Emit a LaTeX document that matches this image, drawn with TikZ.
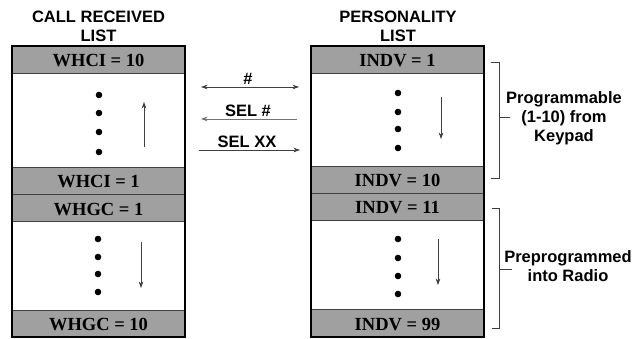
\documentclass[tikz,border=0pt]{standalone}
\usepackage{fontspec}
\setmainfont{Liberation Serif}
\setsansfont{Liberation Sans}
\usetikzlibrary{positioning,calc,arrows.meta}
\definecolor{bandgray}{RGB}{160,160,160}
\newcommand\bandfont{\fontsize{18.5}{20}\selectfont\bfseries}
\newcommand\labelfont{\sffamily\bfseries\fontsize{16.5}{19}\selectfont}
\tikzset{
    % Stile per le fasce grigie
    band/.style={draw=black!75, line width=0.6pt, fill=bandgray,
                 minimum width=173pt, minimum height=27pt,
                 text height=14pt, text depth=0pt,
                 inner sep=0pt, font=\bandfont},
    % Stile per le zone bianche
    gap/.style={fill=white, draw=none},
    listframe/.style={draw=black, line width=2.4pt},
    dot/.style={circle, fill=black, inner sep=0pt, minimum size=6.6pt},
    title/.style={anchor=base, font=\labelfont},
    sidetext/.style={align=center, font=\labelfont},
    tip/.tip={Stealth[length=6.5pt,width=4.6pt]},
    msg/.style={draw=black!75, line width=0.8pt, -tip},
    brace/.style={draw=black!75, line width=0.7pt}
}
\begin{document}
\begin{tikzpicture}[x=1pt,y=-1pt]
    \useasboundingbox (0,0) rectangle (634,339);
    % titoli
    \node[title] (crltop) at (98.5,23) {CALL RECEIVED};
    \node[title] (crlbot) at (98.5,42) {LIST};
    \node[title] (pertop) at (398,23) {PERSONALITY};
    \node[title] (perbot) at (398,42) {LIST};
    % lista chiamate ricevute
    \fill[gap] (12,73) rectangle (185,167);
    \fill[gap] (12,222) rectangle (185,310);
    \node[band] (whci10) at (98.5,60) {WHCI = 10};
    \node[band] (whci1) at (98.5,180.5) {WHCI = 1};
    \node[band] (whgc1) at (98.5,208) {WHGC = 1};
    \node[band] (whgc10) at (98.5,323.5) {WHGC = 10};
    \draw[listframe] (12,46) rectangle (185,337);
    % lista personalita
    \fill[gap] (311,73) rectangle (484,166);
    \fill[gap] (311,220) rectangle (484,309);
    \node[band] (indv1) at (397.5,60) {INDV = 1};
    \node[band] (indv10) at (397.5,179.5) {INDV = 10};
    \node[band] (indv11) at (397.5,206.5) {INDV = 11};
    \node[band] (indv99) at (397.5,323) {INDV = 99};
    \draw[listframe] (311,46) rectangle (484,337);
    % punti
    \foreach \y [count=\i] in {95,113,132,152}
        \node[dot] (cta\i) at (99,\y) {};
    \foreach \y [count=\i] in {239,257,274,292}
        \node[dot] (ctb\i) at (98,\y) {};
    \foreach \y [count=\i] in {93,112,129,148}
        \node[dot] (pera\i) at (398,\y) {};
    \foreach \y [count=\i] in {239,258,276,294}
        \node[dot] (perb\i) at (398,\y) {};
    % frecce di scorrimento
    \coordinate (whciS) at (144,147);
    \coordinate (whciE) at (144,102);
    \coordinate (whgcS) at (141,242);
    \coordinate (whgcE) at (141,288);
    \coordinate (indvaS) at (441,97);
    \coordinate (indvaE) at (441,139);
    \coordinate (indvbS) at (438,239);
    \coordinate (indvbE) at (438,285);
    \draw[msg] (whciS) -- (whciE);
    \draw[msg] (whgcS) -- (whgcE);
    \draw[msg] (indvaS) -- (indvaE);
    \draw[msg] (indvbS) -- (indvbE);
    % messaggi tra le liste
    \coordinate (hashL) at (201,87);
    \coordinate (hashR) at (299,87);
    \coordinate (selhL) at (201,119);
    \coordinate (selhR) at (297,119);
    \coordinate (selxL) at (199,150);
    \coordinate (selxR) at (300,150);
    \draw[msg,tip-tip] (hashL) -- (hashR);
    \draw[msg,draw=black!55] (selhR) -- (selhL);
    \draw[msg] (selxL) -- (selxR);
    \node[title] (hashlbl) at (248,85) {\#};
    \node[title] (selhlbl) at (248,117) {SEL \#};
    \node[title] (selxlbl) at (247,148) {SEL XX};
    % parentesi
    \coordinate (proA) at (491,62);
    \coordinate (proB) at (491,178);
    \coordinate (proM) at (499,117);
    \coordinate (preA) at (492,208);
    \coordinate (preB) at (492,328);
    \coordinate (preM) at (499,269);
    \draw[brace] (proA) -- ++(8,0) |- (proB) (proM) -- ++(11,0);
    \draw[brace] (preA) -- ++(7,0) |- (preB) (preM) -- ++(13,0);
    \node[sidetext] (prolbl) at (564,118) {Programmable\\(1-10) from\\Keypad};
    \node[sidetext] (prelbl) at (568,266) {Preprogrammed\\into Radio};
\end{tikzpicture}
\end{document}
